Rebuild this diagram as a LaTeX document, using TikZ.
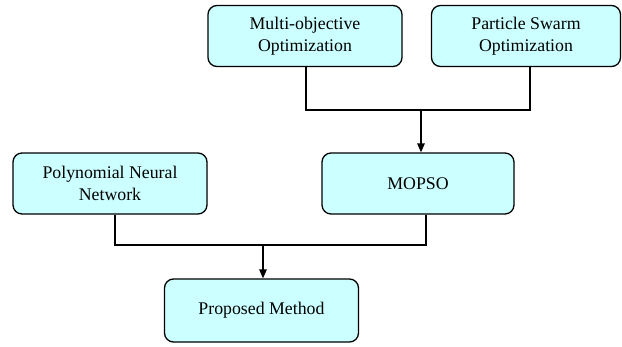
\documentclass[tikz,border=0pt]{standalone}
\usepackage{fontspec}
\setmainfont{Liberation Serif}
\usetikzlibrary{arrows.meta,calc}
\definecolor{boxfill}{RGB}{204,255,255}
\begin{document}
\begin{tikzpicture}[x=1pt,y=-1pt,
  box/.style={draw=black,line width=1.3pt,fill=boxfill,rounded corners=9pt,
    minimum height=61pt,align=center,inner sep=0pt,
    font=\fontsize{17.8}{22}\selectfont},
  link/.style={line width=1.3pt,draw=black},
  arr/.style={link,-{Triangle[length=9pt,width=7.5pt]}}]
\useasboundingbox (0,0) rectangle (622,346);
\node[box,minimum width=194pt] (mo) at (305,36) {Multi-objective\\Optimization};
\node[box,minimum width=189pt] (pso) at (526,36) {Particle Swarm\\Optimization};
\node[box,minimum width=194pt] (pnn) at (110,183.5) {Polynomial Neural\\Network};
\node[box,minimum width=192pt] (mopso) at (418,183.5) {MOPSO};
\node[box,minimum width=194pt,minimum height=63pt] (pm) at (261.5,310.5) {Proposed Method};
\coordinate (j1) at (421,110);
\coordinate (j2) at (263,245);
\draw[link] ($(mo.south)+(1,0)$) |- (j1) -| ($(pso.south)+(4,0)$);
\draw[arr] (j1) -- (j1 |- mopso.north);
\draw[link] ($(pnn.south)+(5,0)$) |- (j2) -| ($(mopso.south)+(8,0)$);
\draw[arr] (j2) -- (j2 |- pm.north);
\end{tikzpicture}
\end{document}
